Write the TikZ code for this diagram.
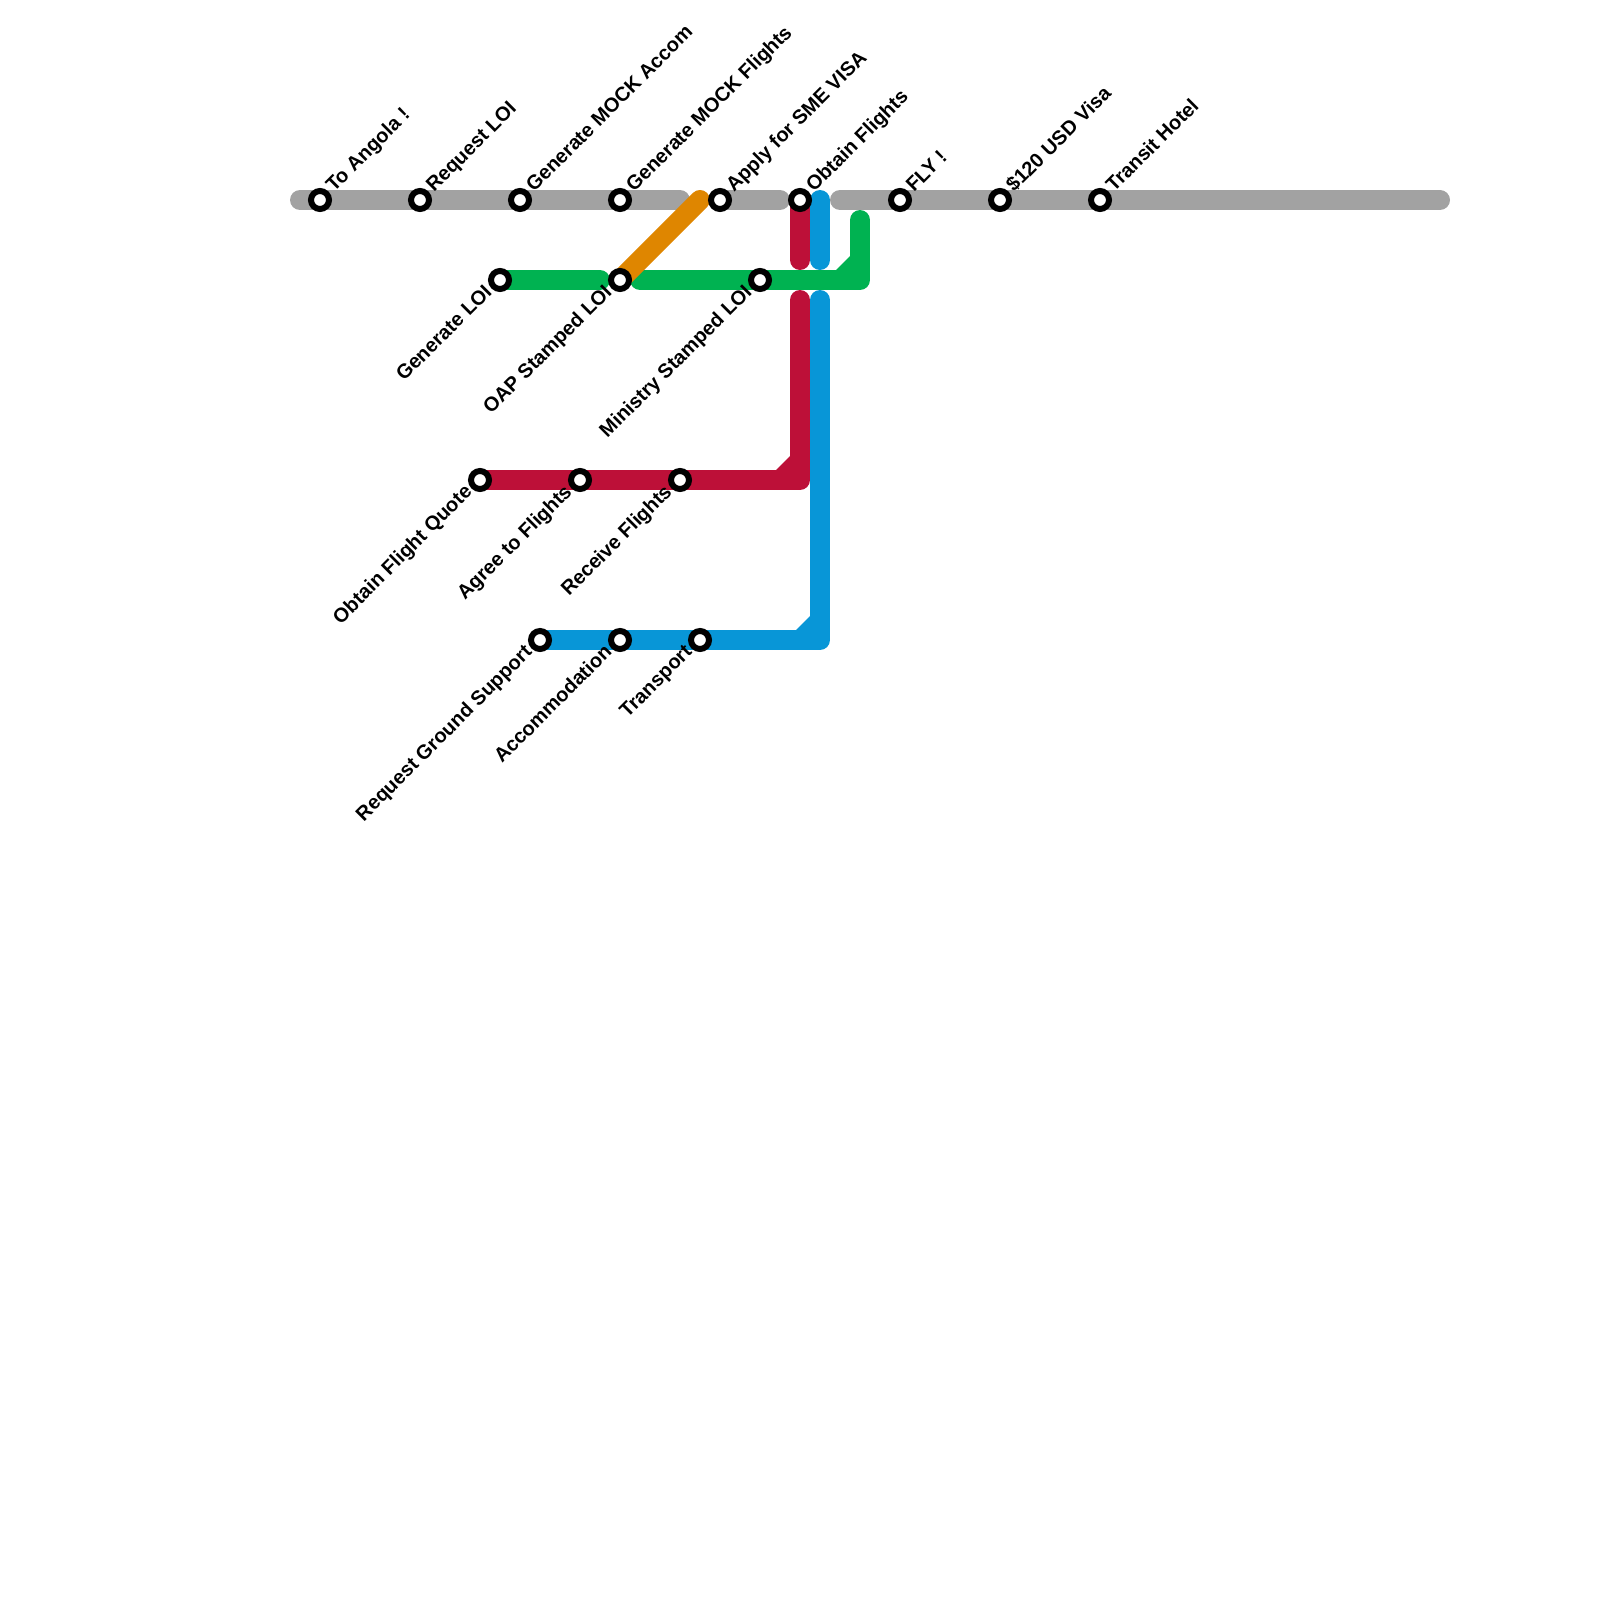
\documentclass[tikz,border=0pt]{standalone}
\usepackage{fontspec}
\usetikzlibrary{calc}
\setmainfont{Liberation Sans}
\begin{document}
\definecolor{lgray}{HTML}{A2A2A2}
\definecolor{lgreen}{HTML}{00B251}
\definecolor{lred}{HTML}{BD1038}
\definecolor{lblue}{HTML}{0896D7}
\definecolor{lorange}{HTML}{DF8600}
\begin{tikzpicture}[x=1pt,y=-1pt,
  metro/.style={line width=20pt,line cap=round,line join=round},
  station/.style={circle,draw=black,fill=white,line width=6pt,inner sep=0pt,minimum size=18pt},
  uplabel/.style={rotate=45,anchor=base west,font=\bfseries\fontsize{20}{22}\selectfont,inner sep=0pt,text=black},
  downlabel/.style={rotate=45,anchor=base east,font=\bfseries\fontsize{20}{22}\selectfont,inner sep=0pt,text=black}]
\useasboundingbox (0,0) rectangle (1600,1600);
% free line ends and bends
\coordinate (g1a) at (300,200); \coordinate (g1b) at (680,200);
\coordinate (g2b) at (780,200);
\coordinate (g3a) at (840,200); \coordinate (g3b) at (1440,200);
\coordinate (r1b) at (800,260); \coordinate (r2a) at (800,300); \coordinate (rc) at (800,480);
\coordinate (b0a) at (820,200); \coordinate (b1b) at (820,260); \coordinate (b2a) at (820,300); \coordinate (bc) at (820,640);
\coordinate (gl1b) at (600,280); \coordinate (gl2a) at (640,280); \coordinate (glc) at (860,280); \coordinate (gl2b) at (860,220);
\coordinate (oa) at (700,200);
% stations (positions)
\coordinate (sToAngola) at (320,200);
\coordinate (sRequest) at (420,200);
\coordinate (sAccom) at (520,200);
\coordinate (sMockFl) at (620,200);
\coordinate (sApply) at (720,200);
\coordinate (sObtainFl) at (800,200);
\coordinate (sFly) at (900,200);
\coordinate (sVisa) at (1000,200);
\coordinate (sTransit) at (1100,200);
\coordinate (sGenLoi) at (500,280);
\coordinate (sOap) at (620,280);
\coordinate (sMin) at (760,280);
\coordinate (sQuote) at (480,480);
\coordinate (sAgree) at (580,480);
\coordinate (sReceive) at (680,480);
\coordinate (sGround) at (540,640);
\coordinate (sAcc) at (620,640);
\coordinate (sTransport) at (700,640);
% lines
\draw[metro,lgray] (g1a) -- (g1b);
\draw[metro,lgray] (sApply) -- (g2b);
\draw[metro,lgray] (g3a) -- (g3b);
\draw[metro,lred] (sObtainFl) -- (r1b);
\draw[metro,lblue] (b0a) -- (b1b);
\fill[lred] ($(rc)+(-24,-10)$) -- ($(rc)+(-10,-24)$) -- ($(rc)+(-10,-10)$) -- cycle;
\draw[metro,lred] (sQuote) -- (rc) -- (r2a);
\fill[lblue] ($(bc)+(-24,-10)$) -- ($(bc)+(-10,-24)$) -- ($(bc)+(-10,-10)$) -- cycle;
\draw[metro,lblue] (sGround) -- (bc) -- (b2a);
\draw[metro,lgreen] (sGenLoi) -- (gl1b);
\fill[lgreen] ($(glc)+(-24,-10)$) -- ($(glc)+(-10,-24)$) -- ($(glc)+(-10,-10)$) -- cycle;
\draw[metro,lgreen] (gl2a) -- (glc) -- (gl2b);
\draw[metro,lorange] (sOap) -- (oa);
% station markers
\foreach \s in {sToAngola,sRequest,sAccom,sMockFl,sApply,sObtainFl,sFly,sVisa,sTransit,sGenLoi,sOap,sMin,sQuote,sAgree,sReceive,sGround,sAcc,sTransport}
  \node[station] (n\s) at (\s) {};
% labels
\node[uplabel] (lToAngola) at ($(sToAngola)+(14,-7)$) {To Angola !};
\node[uplabel] (lRequest) at ($(sRequest)+(14,-7)$) {Request LOI};
\node[uplabel] (lAccom) at ($(sAccom)+(14,-7)$) {Generate MOCK Accom};
\node[uplabel] (lMockFl) at ($(sMockFl)+(14,-7)$) {Generate MOCK Flights};
\node[uplabel] (lApply) at ($(sApply)+(14,-7)$) {Apply for SME VISA};
\node[uplabel] (lObtainFl) at ($(sObtainFl)+(14,-7)$) {Obtain Flights};
\node[uplabel] (lFly) at ($(sFly)+(14,-7)$) {FLY !};
\node[uplabel] (lVisa) at ($(sVisa)+(14,-7)$) {\$120 USD Visa};
\node[uplabel] (lTransit) at ($(sTransit)+(14,-7)$) {Transit Hotel};
\node[downlabel] (lGenLoi) at ($(sGenLoi)+(-7,13)$) {Generate LOI};
\node[downlabel] (lOap) at ($(sOap)+(-7,13)$) {OAP Stamped LOI};
\node[downlabel] (lMin) at ($(sMin)+(-7,13)$) {Ministry Stamped LOI};
\node[downlabel] (lQuote) at ($(sQuote)+(-7,13)$) {Obtain Flight Quote};
\node[downlabel] (lAgree) at ($(sAgree)+(-7,13)$) {Agree to Flights};
\node[downlabel] (lReceive) at ($(sReceive)+(-7,13)$) {Receive Flights};
\node[downlabel] (lGround) at ($(sGround)+(-7,13)$) {Request Ground Support};
\node[downlabel] (lAcc) at ($(sAcc)+(-7,13)$) {Accommodation};
\node[downlabel] (lTransport) at ($(sTransport)+(-7,13)$) {Transport};
\end{tikzpicture}
\end{document}
